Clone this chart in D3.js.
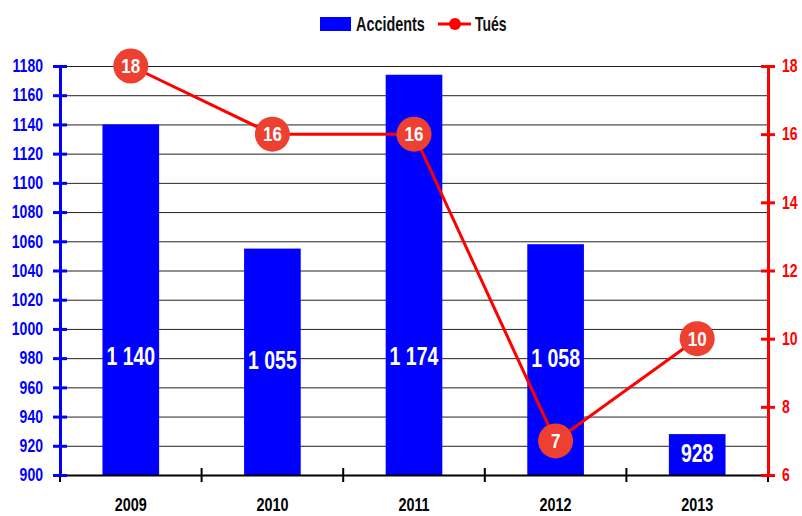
<!DOCTYPE html>
<html>
<head>
<meta charset="utf-8">
<script src="https://cdn.jsdelivr.net/npm/d3@7"></script>
<style>
  html, body { margin: 0; padding: 0; background: #fff; }
  text { font-family: "Liberation Sans", Arial, sans-serif; font-weight: bold; }
</style>
</head>
<body>
<div id="chart"></div>
<script>
const years = ["2009", "2010", "2011", "2012", "2013"]
const accidents = [1140, 1055, 1174, 1058, 928]
const tues = [18, 16, 16, 7, 10]
const leftTicks = d3.range(900, 1181, 20)
const rightTicks = [6, 8, 10, 12, 14, 16, 18]

const width = 802, height = 516
const margin = ({top: 66, right: 34, bottom: 41, left: 60})
const K = 0.78 // horizontal squeeze, no condensed face installed

const svg = d3.select("#chart").append("svg")
    .attr("width", width).attr("height", height)

// squeeze text horizontally around its own x
function condense(sel, k = K) {
    sel.each(function() {
        const t = d3.select(this)
        const x0 = +t.attr("x") || 0
        t.attr("x", x0 / k).attr("transform", `scale(${k},1)`)
    })
}

const x = d3.scaleBand()
    .domain(years)
    .range([margin.left, width - margin.right])
    .paddingInner(0.6).paddingOuter(0.3)

const xCenter = d => x(d) + x.bandwidth() / 2

const yL = d3.scaleLinear().domain([900, 1180]).range([height - margin.bottom, margin.top])
const yR = d3.scaleLinear().domain([6, 18]).range([height - margin.bottom, margin.top])

const fmt = d3.formatLocale({decimal: ",", thousands: " ", grouping: [3], currency: ["", ""]}).format(",d")

// grid
svg.append("g")
    .selectAll("line").data(leftTicks.slice(1)).join("line")
    .attr("x1", margin.left).attr("x2", width - margin.right)
    .attr("y1", d => yL(d) + 0.5).attr("y2", d => yL(d) + 0.5)
    .attr("stroke", "#222").attr("stroke-width", 1)

// bars
svg.append("g")
    .selectAll("rect").data(accidents).join("rect")
    .attr("x", (d, i) => x(years[i]))
    .attr("width", x.bandwidth())
    .attr("y", d => yL(d))
    .attr("height", d => yL(900) - yL(d))
    .attr("fill", "#0000ff")

svg.append("g")
    .selectAll("text").data(accidents).join("text")
    .attr("x", (d, i) => xCenter(years[i]))
    .attr("y", d => Math.max(yL(980), (yL(d) + yL(900)) / 2) - 2)
    .attr("dy", "0.36em")
    .attr("text-anchor", "middle")
    .attr("fill", "#fff")
    .attr("font-size", 25)
    .text(d => fmt(d))
    .call(condense, 0.78)

// x axis
const gx = svg.append("g")
    .attr("transform", `translate(0,${height - margin.bottom})`)
    .call(d3.axisBottom(x).tickSize(0).tickPadding(23))
gx.select(".domain").attr("stroke", "#000").attr("stroke-width", 2)
gx.selectAll("text").attr("font-size", 18).attr("fill", "#000").call(condense, 0.8)
gx.selectAll(".sep").data(d3.range(0, years.length + 1)).join("line")
    .attr("class", "sep")
    .attr("x1", i => margin.left + i * x.step()).attr("x2", i => margin.left + i * x.step())
    .attr("y1", -7).attr("y2", 7)
    .attr("stroke", "#000").attr("stroke-width", 2)

// left axis
const gy = svg.append("g")
    .attr("transform", `translate(${margin.left},0)`)
    .call(d3.axisLeft(yL).tickValues(leftTicks).tickSize(0).tickPadding(17).tickFormat(d3.format("d")))
gy.select(".domain").attr("stroke", "#0000ff").attr("stroke-width", 3)
gy.selectAll(".tick line").attr("x1", -7).attr("x2", 7).attr("stroke", "#0000ff").attr("stroke-width", 3)
gy.selectAll("text").attr("font-size", 18).attr("fill", "#0000ff").call(condense)

// right axis
const gr = svg.append("g")
    .attr("transform", `translate(${width - margin.right},0)`)
    .call(d3.axisRight(yR).tickValues(rightTicks).tickSize(0).tickPadding(14))
gr.select(".domain").attr("stroke", "#ff0000").attr("stroke-width", 3)
gr.selectAll(".tick line").attr("x1", -7).attr("x2", 7).attr("stroke", "#ff0000").attr("stroke-width", 3)
gr.selectAll("text").attr("font-size", 18).attr("fill", "#ff0000").call(condense)

// line
const line = d3.line().x((d, i) => xCenter(years[i])).y(d => yR(d))
svg.append("path").datum(tues)
    .attr("d", line)
    .attr("fill", "none").attr("stroke", "#ff0000").attr("stroke-width", 3)

const pts = svg.append("g").selectAll("g").data(tues).join("g")
    .attr("transform", (d, i) => `translate(${xCenter(years[i])},${yR(d)})`)
pts.append("circle").attr("r", 17.5).attr("fill", "#ee4030")
pts.append("text")
    .attr("text-anchor", "middle").attr("dy", "0.36em")
    .attr("fill", "#fff").attr("font-size", 20)
    .text(d => d)
    .call(condense, 0.85)

// legend
const lg = svg.append("g")
lg.append("rect").attr("x", 320).attr("y", 17).attr("width", 31).attr("height", 14).attr("fill", "#0000ff")
lg.append("text").attr("x", 356).attr("y", 24).attr("dy", "0.36em").attr("font-size", 20).attr("fill", "#111")
    .text("Accidents").call(condense, 0.72)
lg.append("line").attr("x1", 438).attr("x2", 471).attr("y1", 24).attr("y2", 24).attr("stroke", "#ff0000").attr("stroke-width", 3)
lg.append("circle").attr("cx", 455).attr("cy", 24).attr("r", 6).attr("fill", "#ff0000")
lg.append("text").attr("x", 475).attr("y", 24).attr("dy", "0.36em").attr("font-size", 20).attr("fill", "#111")
    .text("Tués").call(condense, 0.7)
</script>
</body>
</html>
